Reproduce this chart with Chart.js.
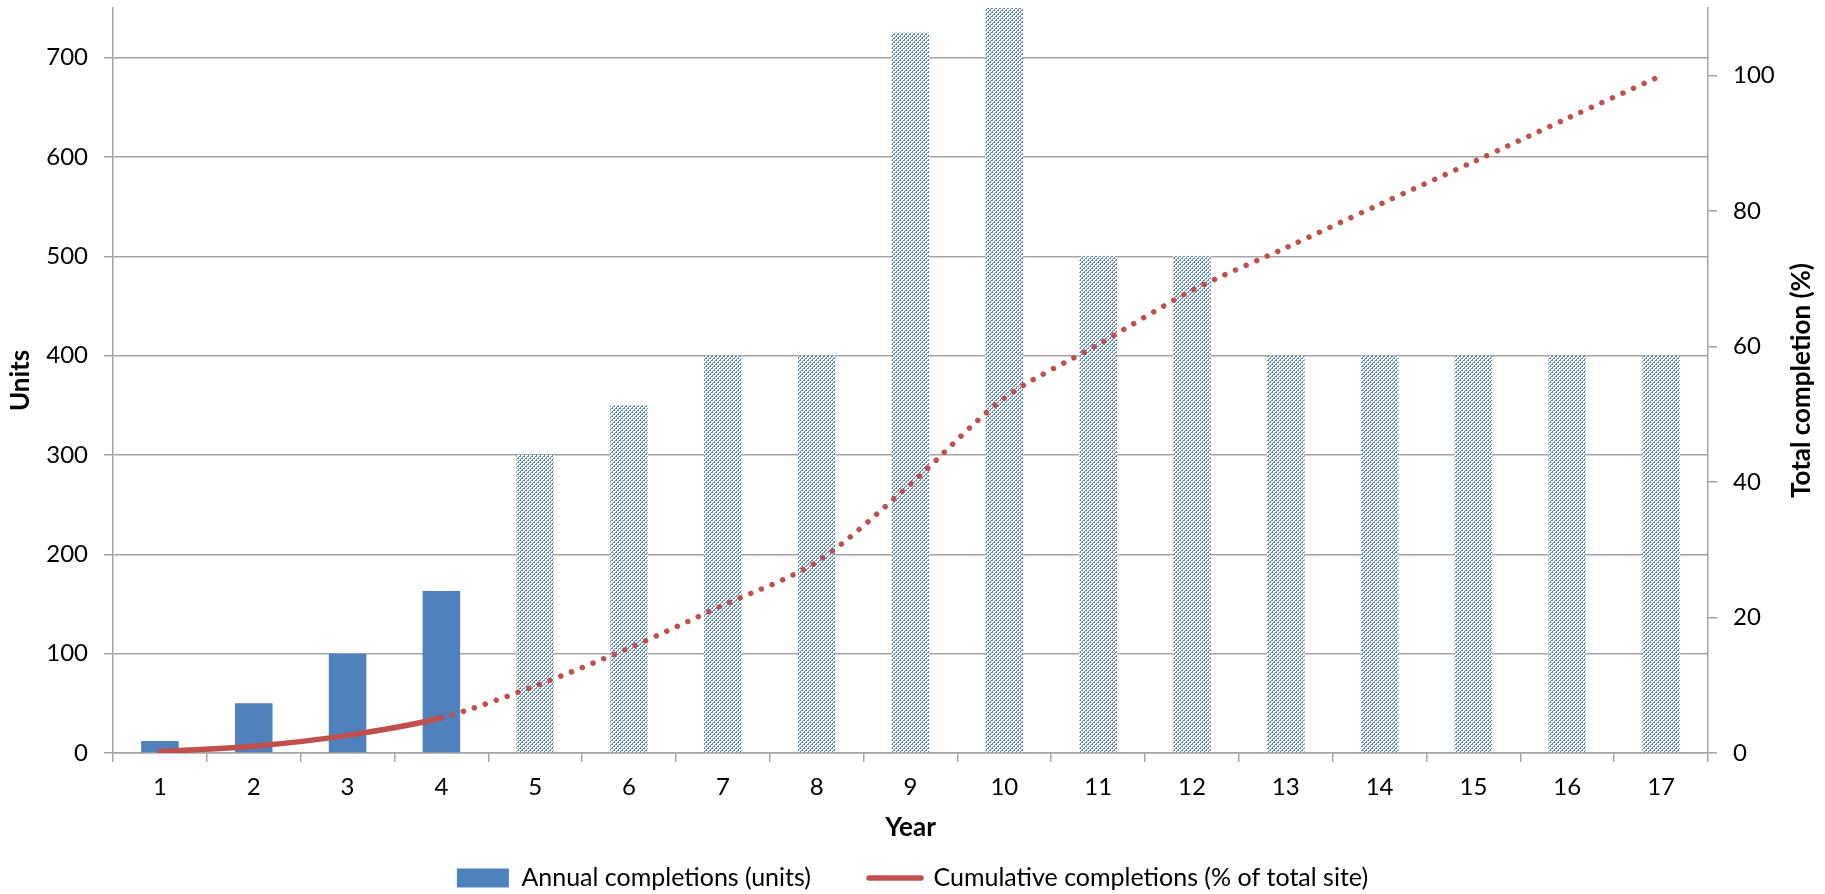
<!DOCTYPE html>
<html>
<head>
<meta charset="utf-8">
<script src="https://cdn.jsdelivr.net/npm/chart.js@4.4.0/dist/chart.umd.min.js"></script>
<style>
  html, body { margin: 0; padding: 0; background: #fff; }
</style>
</head>
<body>
<canvas id="chart" width="1825" height="894"></canvas>
<script>
// data
const years = ['1', '2', '3', '4', '5', '6', '7', '8', '9', '10', '11', '12', '13', '14', '15', '16', '17'];
const annualUnits = [12, 50, 100, 163, 300, 350, 400, 400, 725, 800, 500, 500, 400, 400, 400, 400, 400];
const cumulativePct = [0.2, 1.0, 2.6, 5.2, 9.9, 15.5, 21.8, 28.2, 39.7, 52.4, 60.3, 68.3, 74.6, 81.0, 87.3, 93.7, 100];
const actualYears = 4; // first 4 years are actual, the rest projected
const unitTicks = [0, 100, 200, 300, 400, 500, 600, 700];
const pctTicks = [0, 20, 40, 60, 80, 100];

const blue = '#4F81BD';
const red = '#C0504D';
const gridColor = '#A3A3A3';
const fontName = 'Lato';

// hatch pattern for projected bars
function makeHatch() {
    const c = document.createElement('canvas');
    c.width = 4;
    c.height = 4;
    const g = c.getContext('2d');
    g.fillStyle = '#fff';
    g.fillRect(0, 0, 4, 4);
    g.fillStyle = blue;
    for (let x = 0; x < 4; x++) {
        for (let y = 0; y < 4; y++) {
            if ((x + y) % 4 === 3) g.fillRect(x, y, 1, 1);
            if ((x + y) % 4 === 0 && x % 2 === 0) g.fillRect(x, y, 1, 1);
        }
    }
    return document.getElementById('chart').getContext('2d').createPattern(c, 'repeat');
}
const hatch = makeHatch();

// right axis title reads bottom-to-top, so draw it here
const rightTitle = {
    id: 'rightTitle',
    afterDraw(chart) {
        const ctx = chart.ctx;
        const a = chart.chartArea;
        ctx.save();
        ctx.translate(chart.width - 23, (a.top + a.bottom) / 2);
        ctx.rotate(-Math.PI / 2);
        ctx.font = 'bold 26px ' + fontName;
        ctx.fillStyle = '#000';
        ctx.textAlign = 'center';
        ctx.textBaseline = 'middle';
        ctx.fillText('Total completion (%)', 0, 0);
        ctx.restore();
    }
};

const tickFont = { family: fontName, size: 24 };
const titleFont = { family: fontName, size: 26, weight: 'bold' };

new Chart(document.getElementById('chart'), {
    data: {
        labels: years,
        datasets: [
            {
                type: 'line',
                label: 'Cumulative completions (% of total site)',
                data: cumulativePct,
                yAxisID: 'y2',
                borderColor: red,
                backgroundColor: red,
                borderWidth: 5.5,
                borderCapStyle: 'round',
                borderJoinStyle: 'round',
                pointRadius: 0,
                tension: 0.3,
                order: 1,
                segment: {
                    borderDash: c => c.p0DataIndex >= actualYears - 1 ? [0.01, 11.5] : undefined
                }
            },
            {
                type: 'bar',
                label: 'Annual completions (units)',
                data: annualUnits,
                yAxisID: 'y',
                backgroundColor: annualUnits.map((v, i) => i < actualYears ? blue : hatch),
                borderWidth: 0,
                barPercentage: 0.4,
                categoryPercentage: 1,
                clip: 0,
                order: 2
            }
        ]
    },
    options: {
        responsive: false,
        animation: false,
        devicePixelRatio: 1,
        layout: { padding: { top: 8, left: 0, right: 0, bottom: -6.5 } },
        plugins: {
            tooltip: { enabled: false },
            legend: {
                position: 'bottom',
                labels: {
                    usePointStyle: true,
                    pointStyleWidth: 52,
                    boxHeight: 19,
                    padding: 58,
                    color: '#000',
                    font: { family: fontName, size: 25 },
                    generateLabels: () => [
                        { text: 'Annual completions (units)', pointStyle: 'rect', fillStyle: blue, strokeStyle: blue, lineWidth: 0, datasetIndex: 1 },
                        { text: 'Cumulative completions (% of total site)', pointStyle: 'line', fillStyle: red, strokeStyle: red, lineWidth: 5.5, lineCap: 'round', datasetIndex: 0 }
                    ]
                }
            }
        },
        scales: {
            x: {
                offset: true,
                grid: { offset: true, drawOnChartArea: false, drawTicks: true, tickLength: 9, color: gridColor, lineWidth: 1.5 },
                border: { color: gridColor, width: 1.5 },
                ticks: { color: '#000', font: tickFont, padding: 10.6, maxRotation: 0 },
                title: { display: true, text: 'Year', color: '#000', font: titleFont, padding: { top: 0, bottom: -36.1 } },
                afterFit: s => { s.height = 54.5; s.paddingLeft = 0; s.paddingRight = 0; }
            },
            y: {
                position: 'left',
                min: 0,
                max: 750,
                afterBuildTicks: s => { s.ticks = unitTicks.map(v => ({ value: v })); },
                grid: { drawTicks: true, tickLength: 9, color: gridColor, lineWidth: 1.5 },
                border: { color: gridColor, width: 1.5 },
                ticks: { color: '#000', font: tickFont, padding: 16 },
                title: { display: true, text: 'Units', color: '#000', font: titleFont, padding: { top: 5.4, bottom: 0 } },
                afterFit: s => { s.width = 113; s.paddingTop = 0; s.paddingBottom = 0; }
            },
            y2: {
                position: 'right',
                min: 0,
                max: 110,
                afterBuildTicks: s => { s.ticks = pctTicks.map(v => ({ value: v })); },
                grid: { drawOnChartArea: false, drawTicks: true, tickLength: 9, color: gridColor, lineWidth: 1.5 },
                border: { color: gridColor, width: 1.5 },
                ticks: { color: '#000', font: tickFont, padding: 16 },
                afterFit: s => { s.width = 117; s.paddingTop = 0; s.paddingBottom = 0; }
            }
        }
    },
    plugins: [rightTitle]
});
</script>
</body>
</html>
